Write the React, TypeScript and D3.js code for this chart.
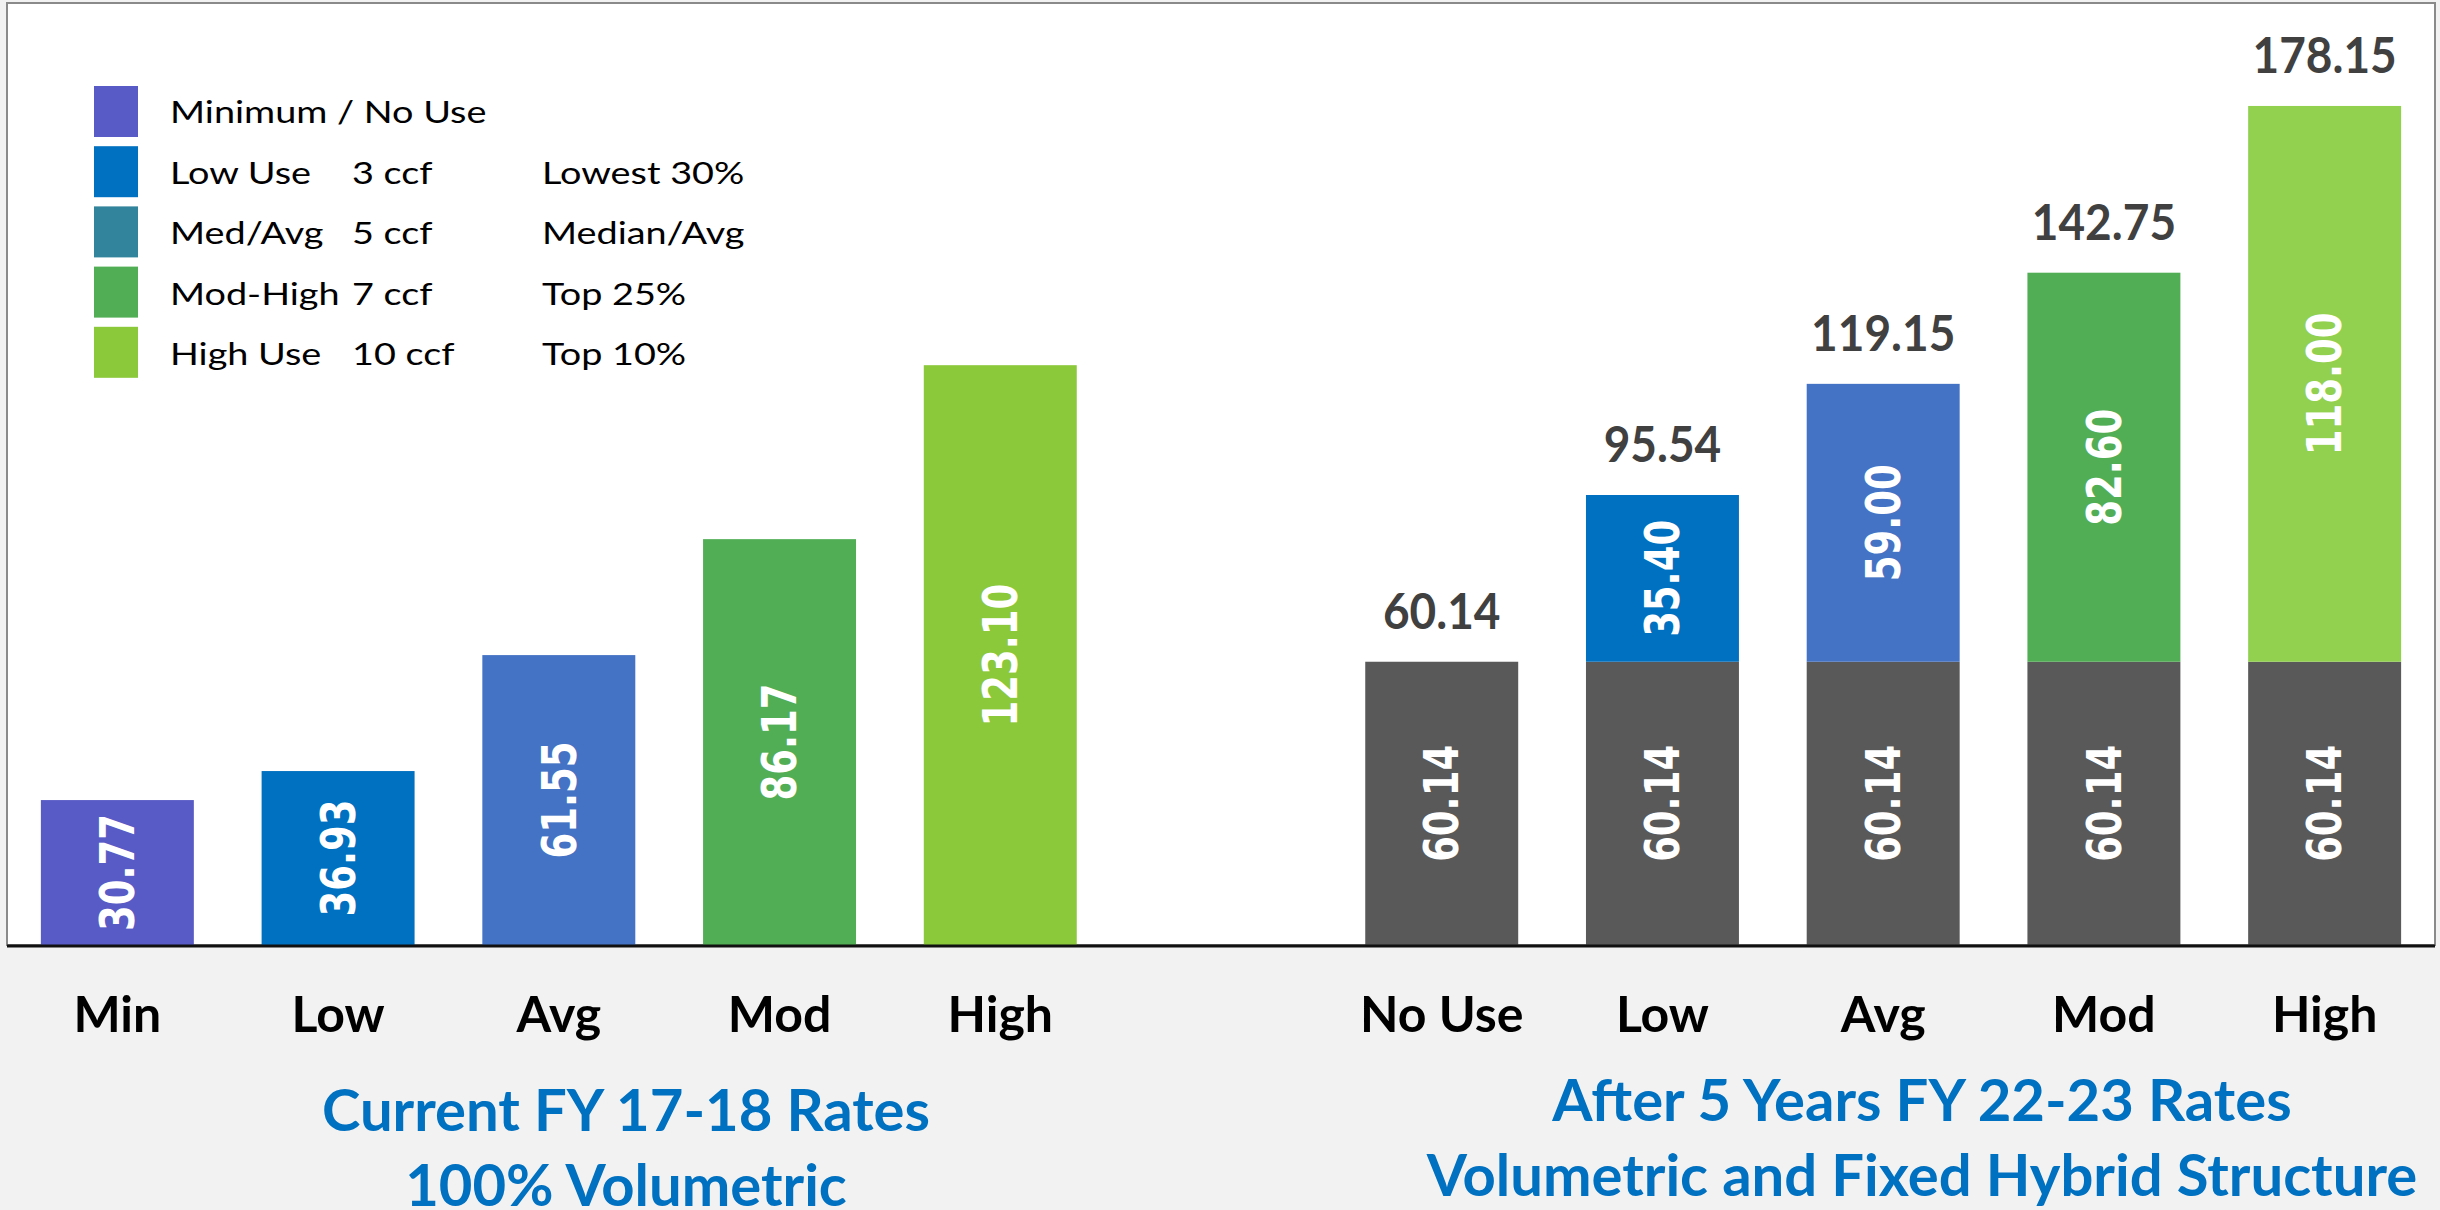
import React from "react";
import * as d3 from "d3";

const currentCategories = ["Min", "Low", "Avg", "Mod", "High"];
const currentValues = [30.77, 36.93, 61.55, 86.17, 123.1];
const currentColors = ["#585AC5", "#0070C0", "#4472C4", "#52AE55", "#8BC83A"];

const futureCategories = ["No Use", "Low", "Avg", "Mod", "High"];
const futureFixed = [60.14, 60.14, 60.14, 60.14, 60.14];
const futureVolumetric = [0, 35.4, 59.0, 82.6, 118.0];
const futureTotals = [60.14, 95.54, 119.15, 142.75, 178.15];
const futureVolColors = ["#595959", "#0070C0", "#4472C4", "#52AE55", "#92D050"];
const fixedColor = "#595959";

const legendNames = ["Minimum / No Use", "Low Use", "Med/Avg", "Mod-High", "High Use"];
const legendUsage = ["", "3 ccf", "5 ccf", "7 ccf", "10 ccf"];
const legendShare = ["", "Lowest 30%", "Median/Avg", "Top 25%", "Top 10%"];
const legendColors = ["#585AC5", "#0070C0", "#31849B", "#52AE55", "#8BC83A"];

const currentTitle = ["Current FY 17-18 Rates", "100% Volumetric"];
const futureTitle = ["After 5 Years FY 22-23 Rates", "Volumetric and Fixed Hybrid Structure"];

const yDomain = [0, 200];

const W = 2440;
const H = 1210;
const PL = 7;
const PR = 2435;
const PT = 3;
const PB = 945;

const SANS = "Lato, 'Open Sans', sans-serif";
const MONO = "'DejaVu Sans', Verdana, sans-serif";

export default function App() {
  const keys = [
    ...currentCategories.map((_, i) => "c" + i),
    "gap",
    ...futureCategories.map((_, i) => "f" + i),
  ];
  const x = d3.scaleBand<string>().domain(keys).range([PL, PR]).paddingInner(0.307).paddingOuter(0.1535);
  const y = d3.scaleLinear().domain(yDomain).range([PB, PT]);
  const bw = x.bandwidth();
  const fmt = d3.format(".2f");

  const inLabel = (cx: number, cy: number, v: number, key: string) => (
    <text
      key={key}
      transform={`translate(${cx},${cy}) scale(1.29,1) rotate(-90)`}
      textAnchor="middle"
      dominantBaseline="central"
      fill="#ffffff"
      fontFamily={MONO}
      fontWeight="bold"
      fontSize={37}
    >
      {fmt(v)}
    </text>
  );

  const catLabel = (cx: number, t: string, key: string) => (
    <text key={key} x={cx} y={1032} textAnchor="middle" fontFamily={SANS} fontWeight="bold" fontSize={50} fill="#000">
      {t}
    </text>
  );

  return (
    <svg width={W} height={H} style={{ position: "absolute", left: 0, top: 0 }}>
      <rect x={0} y={0} width={W} height={H} fill="#f2f2f2" />
      <rect x={PL} y={PT} width={PR - PL} height={PB - PT} fill="#ffffff" stroke="#8a8a8a" strokeWidth={2} />

      {/* current bars */}
      {currentValues.map((v, i) => {
        const k = "c" + i;
        const x0 = x(k)!;
        return (
          <g key={k}>
            <rect x={x0} y={y(v)} width={bw} height={y(0) - y(v)} fill={currentColors[i]} />
            {inLabel(x0 + bw / 2, (y(v) + y(0)) / 2, v, k + "l")}
            {catLabel(x0 + bw / 2, currentCategories[i], k + "c")}
          </g>
        );
      })}

      {/* future bars */}
      {futureFixed.map((f, i) => {
        const k = "f" + i;
        const x0 = x(k)!;
        const vol = futureVolumetric[i];
        const top = y(f + vol);
        return (
          <g key={k}>
            <rect x={x0} y={y(f)} width={bw} height={y(0) - y(f)} fill={fixedColor} />
            {vol > 0 && <rect x={x0} y={top} width={bw} height={y(f) - top} fill={futureVolColors[i]} />}
            {inLabel(x0 + bw / 2, (y(f) + y(0)) / 2, f, k + "a")}
            {vol > 0 && inLabel(x0 + bw / 2, (top + y(f)) / 2, vol, k + "b")}
            <text
              transform={`translate(${x0 + bw / 2},${top - 33}) scale(0.92,1)`}
              textAnchor="middle"
              fontFamily={SANS}
              fontWeight="bold"
              fontSize={50}
              fill="#404040"
            >
              {fmt(futureTotals[i])}
            </text>
            {catLabel(x0 + bw / 2, futureCategories[i], k + "c")}
          </g>
        );
      })}

      {/* axis line */}
      <line x1={PL} x2={PR} y1={PB + 1} y2={PB + 1} stroke="#111" strokeWidth={3} />

      {/* legend */}
      {legendNames.map((n, i) => {
        const rowTop = 86 + i * 60.2;
        const base = 123 + i * 60.6;
        return (
          <g key={"lg" + i}>
            <rect x={94} y={rowTop} width={44} height={51} fill={legendColors[i]} />
            {[
              [170, n],
              [352, legendUsage[i]],
              [542, legendShare[i]],
            ].map(([lx, t], j) => (
              <text
                key={j}
                transform={`translate(${lx},${base}) scale(1.22,1)`}
                fontFamily={SANS}
                fontSize={31}
                fill="#000"
              >
                {t}
              </text>
            ))}
          </g>
        );
      })}

      {/* titles */}
      {currentTitle.map((t, i) => (
        <text key={"ct" + i} x={626} y={1131 + i * 75} textAnchor="middle" fontFamily={SANS} fontWeight="bold" fontSize={58} fill="#0070C0">
          {t}
        </text>
      ))}
      {futureTitle.map((t, i) => (
        <text key={"ft" + i} x={1922} y={1121 + i * 75} textAnchor="middle" fontFamily={SANS} fontWeight="bold" fontSize={58} fill="#0070C0">
          {t}
        </text>
      ))}
    </svg>
  );
}
